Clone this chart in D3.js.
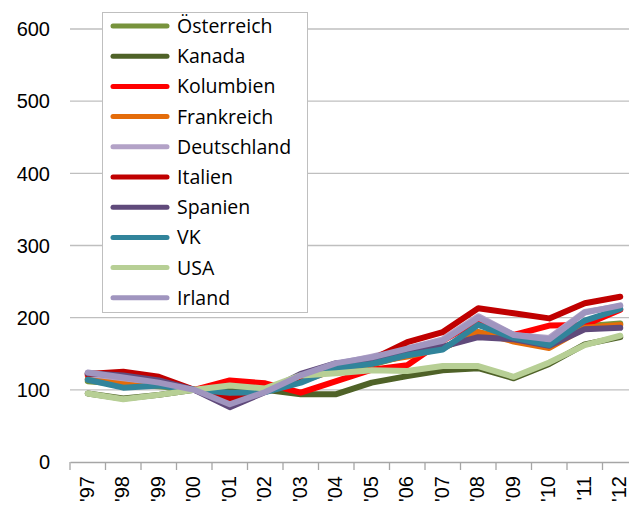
<!DOCTYPE html>
<html><head><meta charset="utf-8">
<script src="https://cdn.jsdelivr.net/npm/d3@7"></script>
<style>body{margin:0;background:#fff}svg{display:block}</style>
</head><body>
<svg id="c" width="629" height="506"></svg>
<script>
const years = ["'97","'98","'99","'00","'01","'02","'03","'04","'05","'06","'07","'08","'09","'10","'11","'12"];
const yTicks = [0,100,200,300,400,500,600];
const names = ["Österreich","Kanada","Kolumbien","Frankreich","Deutschland","Italien","Spanien","VK","USA","Irland"];
const colors = ["#77933C","#4F6228","#FF0000","#E46C0A","#B3A2C7","#C00000","#604A7B","#31849B","#B7CF95","#A095BF"];
const oesterreich = [112,108,105,100,98,100,115,128,135,148,158,180,170,162,188,192];
const kanada      = [95,88,93,100,102,100,94,94,110,119,127,130,116,136,163,173];
const kolumbien   = [120,120,113,100,113,109,96,112,128,134,168,196,176,189,190,211];
const frankreich  = [115,110,108,100,92,98,112,128,138,146,158,180,167,158,186,190];
const deutschland = [122,116,110,100,82,98,118,136,146,157,170,202,176,172,208,216];
const italien     = [122,125,118,100,88,98,115,130,142,166,180,213,206,199,220,229];
const spanien     = [123,120,113,100,76,97,122,137,140,152,160,173,170,161,184,186];
const vk          = [114,103,106,100,96,97,110,130,136,148,156,190,172,162,196,212];
const usa         = [95,87,93,100,106,102,120,123,127,126,133,133,118,138,162,175];
const irland      = [124,117,110,100,80,97,120,137,145,157,168,200,176,170,207,217];
const series = [oesterreich,kanada,kolumbien,frankreich,deutschland,italien,spanien,vk,usa,irland];

const svg = d3.select("#c");
const mLeft = 70, mBottom = 462, mTop = 29;
const x = d3.scaleBand().domain(years).range([mLeft, mLeft + 16*35.5]);
const y = d3.scaleLinear().domain([0,600]).range([mBottom, mTop]);

// gridlines
svg.append("g").selectAll("line").data(yTicks.slice(1)).join("line")
  .attr("x1", mLeft).attr("x2", 629)
  .attr("y1", d=>y(d)).attr("y2", d=>y(d))
  .attr("stroke", "#BFBFBF").attr("stroke-width", 1.3);

// y labels
svg.append("g").selectAll("text").data(yTicks).join("text")
  .attr("x", 50).attr("y", d=>y(d)).attr("dy","0.36em")
  .attr("text-anchor","end")
  .style("font-family","Liberation Sans, Arial, sans-serif").style("font-size","20px").attr("fill","#000")
  .text(d=>d);

// x axis
const xAxis = svg.append("g").attr("transform",`translate(0,${mBottom})`)
  .call(d3.axisBottom(x).tickSize(0).tickFormat(""));
xAxis.select(".domain").attr("stroke","#A6A6A6").attr("stroke-width",1.3);
const bounds = years.map(d=>x(d)).concat([x(years[years.length-1]) + x.bandwidth()]);
svg.append("g").selectAll("line").data(bounds).join("line")
  .attr("x1",d=>d).attr("x2",d=>d).attr("y1",mBottom).attr("y2",mBottom+8)
  .attr("stroke","#A6A6A6").attr("stroke-width",1.3);
svg.append("g").selectAll("text").data(years).join("text")
  .attr("transform", d=>`translate(${x(d)+x.bandwidth()/2},${mBottom+14}) rotate(-90)`)
  .attr("text-anchor","end").attr("dy","0.3em")
  .style("font-family","Liberation Sans, Arial, sans-serif").style("font-size","20px").attr("fill","#000")
  .text(d=>d);

// lines
const line = d3.line().x((d,i)=>x(years[i])+x.bandwidth()/2).y(d=>y(d));
svg.append("g").selectAll("path").data(series).join("path")
  .attr("d", line).attr("fill","none")
  .attr("stroke",(d,i)=>colors[i]).attr("stroke-width",6)
  .attr("stroke-linejoin","round").attr("stroke-linecap","round");

// legend
const lg = svg.append("g");
lg.append("rect").attr("x",102.5).attr("y",12.5).attr("width",205).attr("height",300)
  .attr("fill","#fff").attr("stroke","#BFBFBF").attr("stroke-width",1);
const items = lg.selectAll("g").data(names).join("g")
  .attr("transform",(d,i)=>`translate(0,${26 + i*30.2})`);
items.append("line").attr("x1",113).attr("x2",167).attr("y1",0).attr("y2",0)
  .attr("stroke",(d,i)=>colors[i]).attr("stroke-width",5).attr("stroke-linecap","round");
items.append("text").attr("x",177).attr("y",0).attr("dy","0.36em")
  .style("font-family","Open Sans, Noto Sans, sans-serif").style("font-size","19.5px").attr("fill","#000")
  .text(d=>d);
</script>
</body></html>
